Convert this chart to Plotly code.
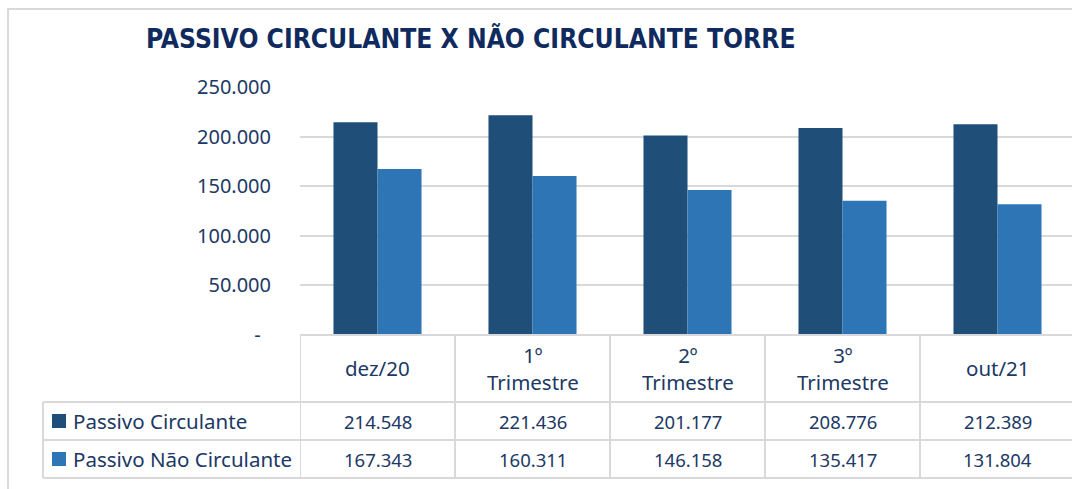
import plotly.graph_objects as go

categories = ["dez/20", "1º<br>Trimestre", "2º<br>Trimestre", "3º<br>Trimestre", "out/21"]
series_names = ["Passivo Circulante", "Passivo Não Circulante"]
passivo_circulante = [214548, 221436, 201177, 208776, 212389]
passivo_nao_circulante = [167343, 160311, 146158, 135417, 131804]
value_labels_pc = ["214.548", "221.436", "201.177", "208.776", "212.389"]
value_labels_pnc = ["167.343", "160.311", "146.158", "135.417", "131.804"]
y_tickvals = [0, 50000, 100000, 150000, 200000, 250000]
y_ticktext = ["-\u00a0\u00a0", "50.000", "100.000", "150.000", "200.000", "250.000"]
title_text = "PASSIVO CIRCULANTE X NÃO CIRCULANTE TORRE"

colors = ["#1F4E79", "#2E75B6"]
text_color = "#203864"
grid_color = "#D9D9D9"
FONT = "Noto Sans"

# body margin is removed in the page, so window pixels == figure pixels
W, H = 1072, 489
L = 300
T = 87
B = H - 335
R = 0
pw = W - L - R
ph = H - T - B

def px2x(px):
    return (px - L) / pw

def px2y(py):
    return (H - B - py) / ph

xs = list(range(len(categories)))

fig = go.Figure()
for name, vals, col in zip(series_names, [passivo_circulante, passivo_nao_circulante], colors):
    fig.add_trace(go.Bar(x=xs, y=vals, name=name, marker=dict(color=col, line=dict(width=0)),
                         showlegend=False, hoverinfo="skip"))

shapes = []
annotations = []

# outer chart frame
shapes.append(dict(type="rect", xref="paper", yref="paper",
                   x0=px2x(8), x1=px2x(1100), y0=px2y(9), y1=px2y(520),
                   line=dict(color="#D9D9D9", width=2), layer="below"))

line_style = dict(color=grid_color, width=2)
y_top = px2y(335)
y_r1 = px2y(402)
y_r2 = px2y(440)
y_r3 = px2y(478)
# vertical column separators (data columns, following x scale)
for i in range(len(categories) + 1):
    shapes.append(dict(type="line", xref="x", yref="paper", x0=i - 0.5, x1=i - 0.5,
                       y0=y_top, y1=y_r3, line=line_style))
# left edge of legend column
shapes.append(dict(type="line", xref="paper", yref="paper", x0=px2x(43), x1=px2x(43),
                   y0=y_r1, y1=y_r3, line=line_style))
# horizontal lines
shapes.append(dict(type="line", xref="paper", yref="paper", x0=0, x1=1.01, y0=y_top, y1=y_top, line=line_style))
for yy in [y_r1, y_r2, y_r3]:
    shapes.append(dict(type="line", xref="paper", yref="paper", x0=px2x(43), x1=1.01,
                       y0=yy, y1=yy, line=line_style))

# header labels
for i, c in enumerate(categories):
    annotations.append(dict(x=i, y=px2y(368), xref="x", yref="paper", text=c, showarrow=False,
                            font=dict(family=FONT, size=20.5, color=text_color),
                            xanchor="center", yanchor="middle", align="center"))

# rows
row_centers = [421, 459]
for name, col, labels, yc in zip(series_names, colors, [value_labels_pc, value_labels_pnc], row_centers):
    shapes.append(dict(type="rect", xref="paper", yref="paper",
                       x0=px2x(52), x1=px2x(66), y0=px2y(yc + 7), y1=px2y(yc - 7),
                       fillcolor=col, line=dict(width=0)))
    annotations.append(dict(x=px2x(71), y=px2y(yc), xref="paper", yref="paper", text=name,
                            showarrow=False, xanchor="left", yanchor="middle",
                            font=dict(family=FONT, size=20.5, color=text_color)))
    for i, lab in enumerate(labels):
        annotations.append(dict(x=i, y=px2y(yc), xref="x", yref="paper", text=lab,
                                showarrow=False, xanchor="center", yanchor="middle",
                                font=dict(family=FONT, size=18.5, color=text_color)))

# title
annotations.append(dict(x=px2x(144), y=px2y(38), xref="paper", yref="paper", text="<b>" + title_text + "</b>",
                        showarrow=False, xanchor="left", yanchor="middle",
                        font=dict(family="DejaVu Sans Condensed", size=26.2, color="#0F2A5E")))

fig.update_layout(
    width=W, height=H,
    margin=dict(l=L, r=R, t=T, b=B, pad=0),
    paper_bgcolor="white", plot_bgcolor="white",
    barmode="group", bargap=0.432, bargroupgap=0,
    hovermode=False,
    shapes=shapes, annotations=annotations,
    xaxis=dict(range=[-0.5, 4.5 - 3 / 155], showticklabels=False, showgrid=False,
               zeroline=False, showline=False, ticks="", fixedrange=True),
    yaxis=dict(range=[0, 250000], tickvals=y_tickvals, ticktext=y_ticktext,
               showgrid=True, gridcolor=grid_color, gridwidth=2, zeroline=False,
               showline=False, ticks="", ticklabelstandoff=28,
               tickfont=dict(family=FONT, size=20, color=text_color), fixedrange=True),
)

fig.write_html("out.html", config={"displayModeBar": False, "staticPlot": True},
               post_script="document.body.style.margin='0';document.documentElement.style.overflow='hidden';")
